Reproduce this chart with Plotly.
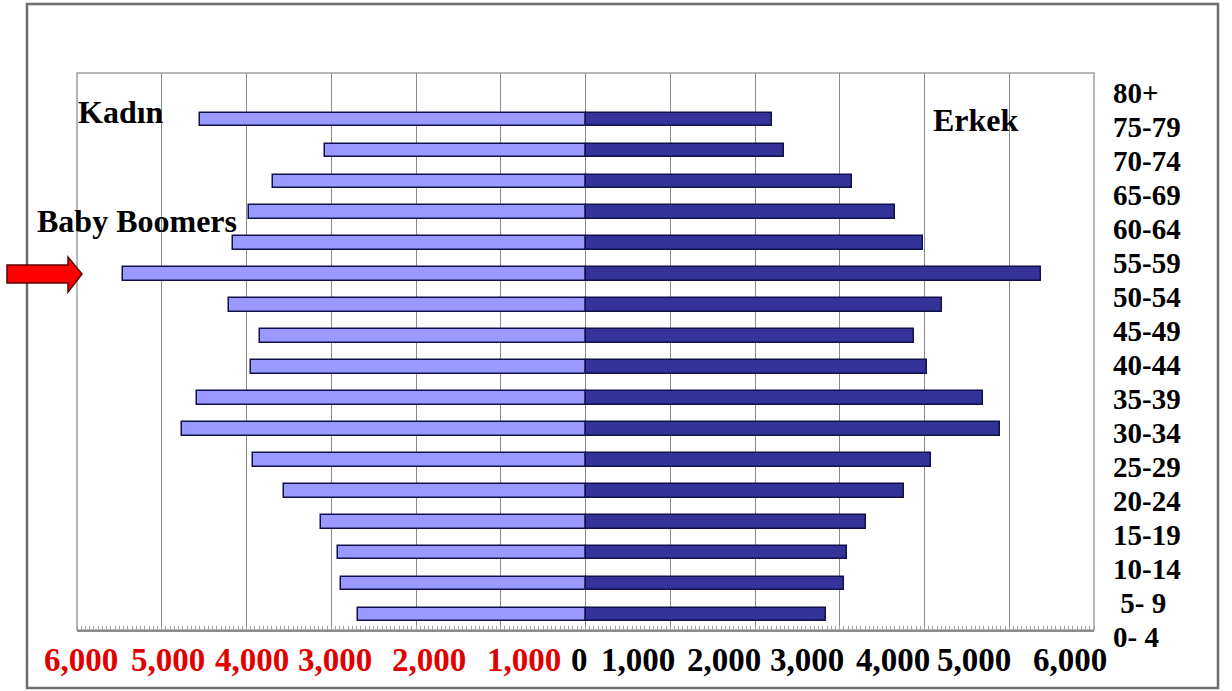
import plotly.graph_objects as go

# Age groups, youngest first (bottom of the pyramid)
age_groups = ["0- 4", "5- 9", "10-14", "15-19", "20-24", "25-29", "30-34", "35-39",
              "40-44", "45-49", "50-54", "55-59", "60-64", "65-69", "70-74", "75-79", "80+"]
age_tick_labels = ["0- 4", "\u00a05- 9", "10-14", "15-19", "20-24", "25-29", "30-34", "35-39",
                   "40-44", "45-49", "50-54", "55-59", "60-64", "65-69", "70-74", "75-79", "80+"]

# Population (thousands)
kadin = [2680, 2880, 2925, 3120, 3555, 3925, 4760, 4585,
         3950, 3835, 4210, 5460, 4165, 3975, 3685, 3075, 4550]
erkek = [2835, 3045, 3090, 3305, 3760, 4075, 4895, 4685,
         4030, 3875, 4205, 5375, 3980, 3655, 3140, 2345, 2205]

left_ticks = [-6000, -5000, -4000, -3000, -2000, -1000]
right_ticks = [0, 1000, 2000, 3000, 4000, 5000, 6000]
left_text = ["6,000", "5,000", "4,000", "3,000", "2,000", "1,000"]
right_text = ["0", "1,000", "2,000", "3,000", "4,000", "5,000", "6,000"]

W, H = 1232, 691
PL, PR, PT, PB = 77, 1094, 73, 630        # plot-area pixel box


def px(x):
    return (x - PL) / (PR - PL)


def py(y):
    return (PB - y) / (PB - PT)


FONT = "Liberation Serif"
outline = "#10104a"

fig = go.Figure()
fig.add_trace(go.Bar(
    y=age_groups, x=[-v for v in kadin], orientation="h", name="Kadın",
    marker=dict(color="#9999FF", line=dict(color=outline, width=1.5)),
    width=0.44, customdata=kadin,
    hovertemplate="Kadın %{y}: %{customdata:,}<extra></extra>",
))
fig.add_trace(go.Bar(
    y=age_groups, x=erkek, orientation="h", name="Erkek",
    marker=dict(color="#333399", line=dict(color=outline, width=1.5)),
    width=0.44,
    hovertemplate="Erkek %{y}: %{x:,}<extra></extra>",
))

annotations = []
# x tick labels, set as free text under the axis
tick_font_size = 33
tick_shift_left = [4, 6, 5, 4, 13, 23]
tick_shift_right = [-6, -32, -31, -33, -32, -35, -24]
for v, t, s in zip(left_ticks, left_text, tick_shift_left):
    annotations.append(dict(x=v, y=py(660), xref="x", yref="paper", text="<b>" + t + "</b>",
                            showarrow=False, xshift=s,
                            font=dict(family=FONT, size=tick_font_size, color="#e00000"),
                            xanchor="center", yanchor="middle"))
for v, t, s in zip(right_ticks, right_text, tick_shift_right):
    annotations.append(dict(x=v, y=py(660), xref="x", yref="paper", text="<b>" + t + "</b>",
                            showarrow=False, xshift=s,
                            font=dict(family=FONT, size=tick_font_size, color="#000000"),
                            xanchor="center", yanchor="middle"))

# age-group scale down the right-hand side (its own even spacing)
AGE_TOP, AGE_BOTTOM = 92.5, 637.0
age_step = (AGE_BOTTOM - AGE_TOP) / (len(age_tick_labels) - 1)
for i, t in enumerate(age_tick_labels):
    annotations.append(dict(x=px(1111), y=py(AGE_BOTTOM - i * age_step), xref="paper", yref="paper",
                            text="<b>" + t + "</b>", showarrow=False,
                            xanchor="left", yanchor="middle",
                            font=dict(family=FONT, size=29, color="#000000")))

label_font = dict(family=FONT, size=32, color="#000000")
annotations += [
    dict(x=px(76), y=py(112), xref="paper", yref="paper", text="<b>Kadın</b>",
         showarrow=False, xanchor="left", yanchor="middle", font=label_font),
    dict(x=px(931), y=py(120), xref="paper", yref="paper", text="<b>Erkek</b>",
         showarrow=False, xanchor="left", yanchor="middle", font=label_font),
    dict(x=px(35), y=py(221), xref="paper", yref="paper", text="<b>Baby Boomers</b>",
         showarrow=False, xanchor="left", yanchor="middle", font=label_font),
]

# red block arrow pointing at the boomer generation
arrow = [(7, 265), (68, 265), (68, 257), (82, 274), (68, 292), (68, 283), (7, 283)]
arrow_path = "M " + " L ".join(f"{px(x):.5f},{py(y):.5f}" for x, y in arrow) + " Z"

shapes = [
    dict(type="rect", xref="paper", yref="paper", x0=px(27), x1=px(1218), y0=py(688), y1=py(4),
         line=dict(color="#6e6e6e", width=2.5), layer="below"),
    dict(type="path", xref="paper", yref="paper", path=arrow_path,
         fillcolor="#ff0000", line=dict(color="#5a0000", width=1.5)),
    # plot frame (top and right edges)
    dict(type="rect", xref="paper", yref="paper", x0=0, x1=1, y0=0, y1=1,
         line=dict(color="#a0a0a0", width=1.5), layer="below"),
]

fig.update_layout(
    width=W, height=H,
    margin=dict(l=PL, r=W - PR, t=PT, b=H - PB),
    paper_bgcolor="white", plot_bgcolor="white",
    barmode="relative", bargap=0,
    showlegend=False,
    font=dict(family=FONT, color="#000000"),
    xaxis=dict(range=[-6000, 6000], tickvals=left_ticks + right_ticks, showticklabels=False,
               showgrid=True, gridcolor="#8a8a8a", gridwidth=1, zeroline=False,
               showline=True, linecolor="#8c8c8c", linewidth=2, ticks="",
               minor=dict(dtick=50, ticks="inside", ticklen=4, tickcolor="#a0a0a0", showgrid=False),
               fixedrange=True),
    yaxis=dict(type="category", categoryorder="array",
               categoryarray=age_groups, range=[-0.5, 17.5], showticklabels=False,
               showgrid=False, zeroline=False, showline=False, fixedrange=True),
    annotations=annotations,
    shapes=shapes,
)

fig.write_html("out.html")
